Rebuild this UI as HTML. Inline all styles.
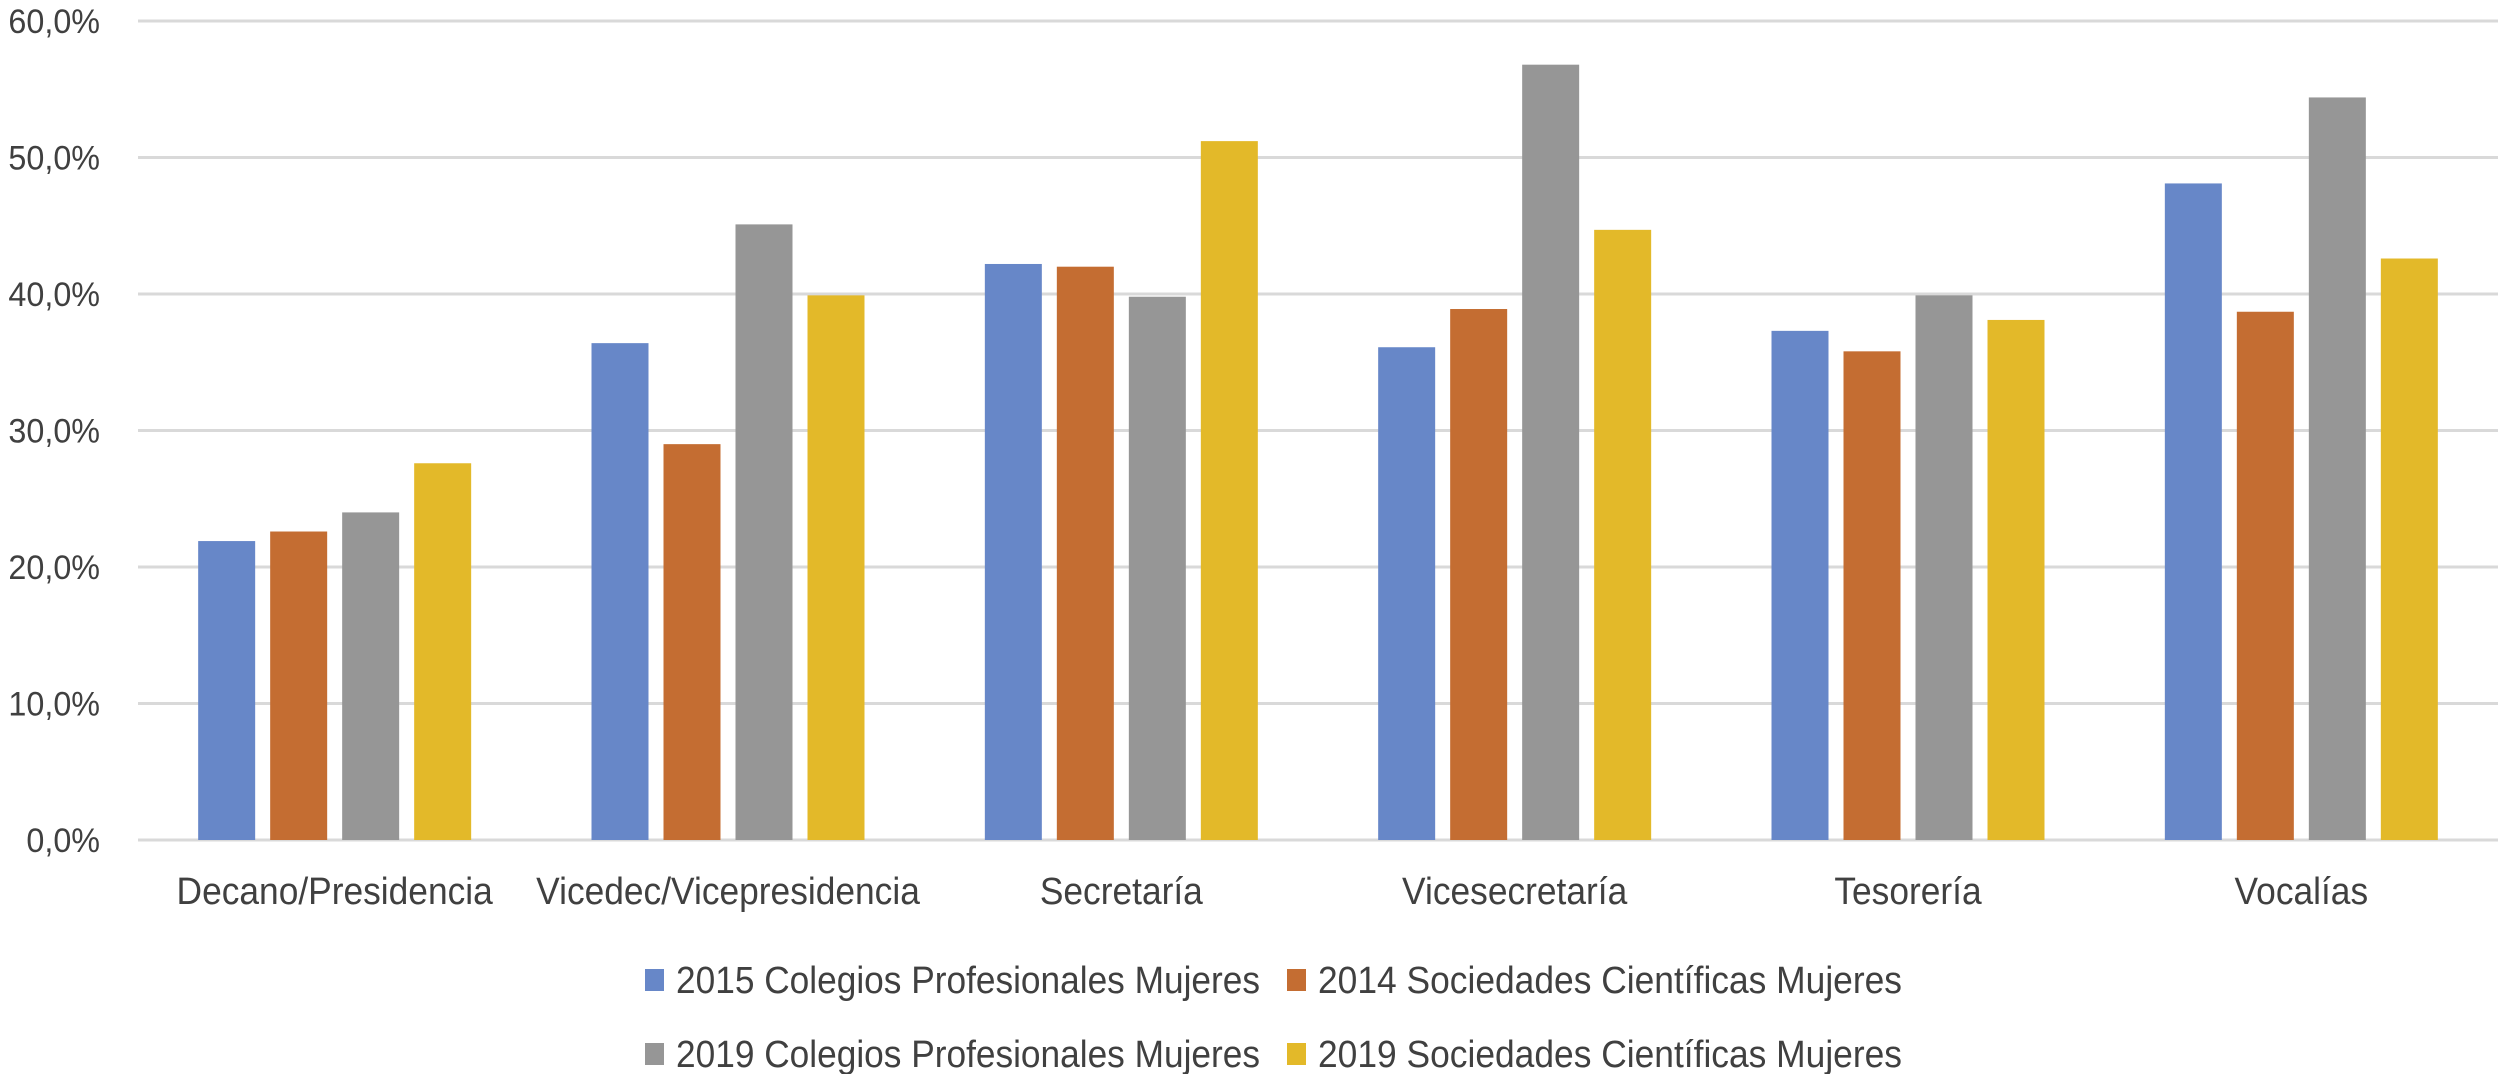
<!DOCTYPE html>
<html><head><meta charset="utf-8"><style>
html,body{margin:0;padding:0;background:#fff;}
svg{display:block;font-family:"Liberation Sans",sans-serif;}
</style></head><body>
<svg id="chart" width="2504" height="1074" viewBox="0 0 2504 1074" xmlns="http://www.w3.org/2000/svg">
<g id="grid"></g>
<g id="yticks"></g>
<g id="bars"></g>
<g id="xlabels"></g>
<g id="legend"></g>
</svg>
<script>
const categories = ["Decano/Presidencia","Vicedec/Vicepresidencia","Secretaría","Vicesecretaría","Tesorería","Vocalías"];
const seriesNames = ["2015 Colegios Profesionales Mujeres","2014 Sociedades Científicas Mujeres","2019 Colegios Profesionales Mujeres","2019 Sociedades Científicas Mujeres"];
const colegios2015 = [21.9, 36.4, 42.2, 36.1, 37.3, 48.1];
const sociedades2014 = [22.6, 29.0, 42.0, 38.9, 35.8, 38.7];
const colegios2019 = [24.0, 45.1, 39.8, 56.8, 39.9, 54.4];
const sociedades2019 = [27.6, 39.9, 51.2, 44.7, 38.1, 42.6];
const yTicks = [0, 10, 20, 30, 40, 50, 60];
const yTickLabels = ["0,0%","10,0%","20,0%","30,0%","40,0%","50,0%","60,0%"];

const NS = "http://www.w3.org/2000/svg";
const colors = ["#6787c8","#c46d32","#969696","#e3b929"];
const series = [colegios2015, sociedades2014, colegios2019, sociedades2019];
const plotL = 138, plotR = 2498, y0 = 840, yTop = 21, yMax = 60;
const yScale = v => y0 - (v / yMax) * (y0 - yTop);
const pitch = (plotR - plotL) / categories.length;
const xCenter = i => plotL + pitch * (i + 0.5);
const barW = 57, gap = 15;

function mk(tag, attrs, parent) {
  const el = document.createElementNS(NS, tag);
  for (const k in attrs) el.setAttribute(k, attrs[k]);
  parent.appendChild(el);
  return el;
}
const grid = document.getElementById('grid');
const yt = document.getElementById('yticks');
yTicks.forEach((t, i) => {
  const y = yScale(t);
  const ln = mk('line', {x1: plotL, x2: plotR, y1: y, y2: y, stroke: '#d9d9d9', 'stroke-width': 3}, grid);
  
  
  const tx = mk('text', {transform: `translate(100,${y + 12}) scale(0.95,1)`, 'text-anchor': 'end', 'font-size': 34, fill: '#404040'}, yt);
  tx.textContent = yTickLabels[i];
  
  
});
const barsG = document.getElementById('bars');
const total = series.length * barW + (series.length - 1) * gap;
categories.forEach((c, i) => {
  series.forEach((s, j) => {
    const x = xCenter(i) - total / 2 + j * (barW + gap);
    const y = yScale(s[i]);
    const r = mk('rect', {x: x, y: y, width: barW, height: y0 - y, fill: colors[j]}, barsG);
    
    
  });
  const tx = mk('text', {transform: `translate(${xCenter(i)},904) scale(0.93,1)`, 'text-anchor': 'middle', 'font-size': 38, fill: '#404040'}, document.getElementById('xlabels'));
  tx.textContent = c;
  
  
});
const leg = document.getElementById('legend');
const legPos = [[645, 969], [1287, 969], [645, 1043], [1287, 1043]];
seriesNames.forEach((n, j) => {
  const [x, y] = legPos[j];
  const g = mk('g', {}, leg);
  
  
  const sq = mk('rect', {x: x, y: y, width: 19, height: 22, fill: colors[j]}, g);
  
  
  const tx = mk('text', {x: x + 31, y: y + 24, 'font-size': 38, fill: '#404040', textLength: 584, lengthAdjust: 'spacingAndGlyphs'}, g);
  tx.textContent = n;
  
  
});
</script>
</body></html>
